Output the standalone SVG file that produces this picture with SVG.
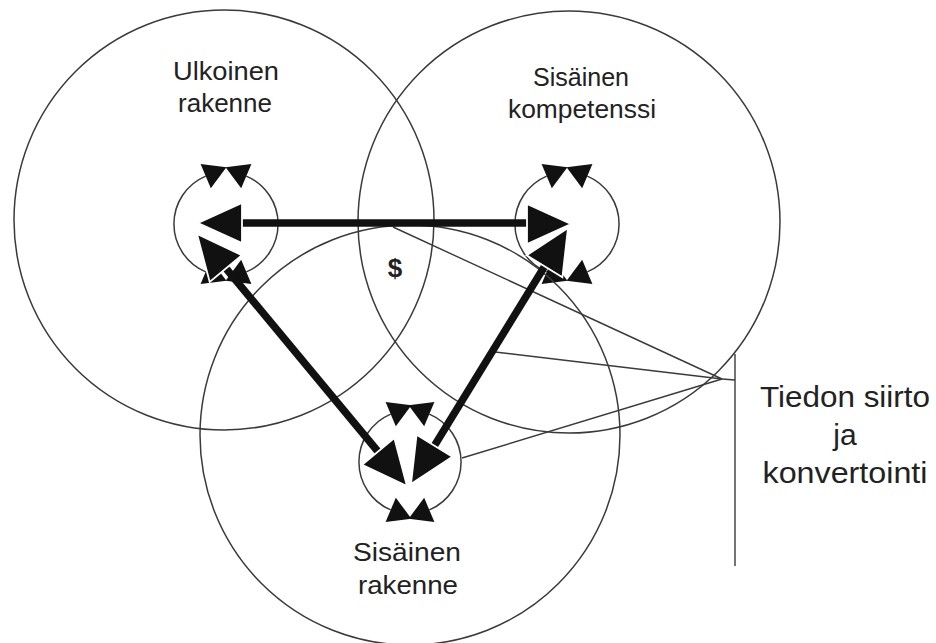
<svg xmlns="http://www.w3.org/2000/svg" width="936" height="643" viewBox="0 0 936 643">
<style>
.big{fill:none;stroke:#3a3a3a;stroke-width:1.5}
.loop{fill:none;stroke:#3a3a3a;stroke-width:1.5;marker-start:url(#sm);marker-end:url(#sm)}
.thin{fill:none;stroke:#3a3a3a;stroke-width:1.4}
.shaft{stroke:#111;stroke-width:7.5;stroke-linecap:butt}
.head{fill:#111;stroke:#fff;stroke-width:1.8;stroke-linejoin:miter}
text{font-family:"Liberation Sans",Arial,sans-serif;fill:#222;text-anchor:middle}
.lbl{font-size:26px}
.note{font-size:30px}
</style>
<defs>
<marker id="sm" markerUnits="userSpaceOnUse" markerWidth="30" markerHeight="30" viewBox="-2 -12 24 24" refX="0" refY="0" orient="auto-start-reverse">
<path d="M0,-10.5 L18,0 L0,10.5 z" fill="#111"/>
</marker>
</defs>
<rect width="936" height="643" fill="#fff"/>

<g id="ulkoinen-rakenne">
<circle class="big" cx="224" cy="220" r="210"/>
<text class="lbl" x="226" y="80" textLength="106" lengthAdjust="spacingAndGlyphs">Ulkoinen</text>
<text class="lbl" x="225" y="112" textLength="94" lengthAdjust="spacingAndGlyphs">rakenne</text>
<path class="loop" d="M205.7,271.9 A52 52 0 0 1 205.7,176.1"/>
<path class="loop" d="M246.3,271.9 A52 52 0 0 0 246.3,176.1"/>
</g>

<g id="sisainen-kompetenssi">
<circle class="big" cx="569" cy="222" r="211"/>
<text class="lbl" x="581" y="86" textLength="96" lengthAdjust="spacingAndGlyphs">Sisäinen</text>
<text class="lbl" x="582" y="118" textLength="148" lengthAdjust="spacingAndGlyphs">kompetenssi</text>
<path class="loop" d="M546.7,271.9 A52 52 0 0 1 546.7,176.1"/>
<path class="loop" d="M587.3,271.9 A52 52 0 0 0 587.3,176.1"/>
</g>

<g id="sisainen-rakenne">
<circle class="big" cx="410" cy="435" r="210"/>
<text class="lbl" x="407" y="561" textLength="108" lengthAdjust="spacingAndGlyphs">Sisäinen</text>
<text class="lbl" x="408" y="594" textLength="100" lengthAdjust="spacingAndGlyphs">rakenne</text>
<path class="loop" d="M390.7,509.9 A52 52 0 0 1 390.7,414.1"/>
<path class="loop" d="M429.3,509.9 A52 52 0 0 0 429.3,414.1"/>
</g>

<g id="tiedon-siirto">
<text class="note" x="845" y="407" textLength="170" lengthAdjust="spacingAndGlyphs">Tiedon siirto</text>
<text class="note" x="845" y="445">ja</text>
<text class="note" x="845" y="483" textLength="165" lengthAdjust="spacingAndGlyphs">konvertointi</text>
</g>

<g id="connectors">
<line class="thin" x1="393" y1="227" x2="722" y2="379"/>
<line class="thin" x1="495" y1="352" x2="722" y2="379"/>
<line class="thin" x1="462" y1="458" x2="722" y2="379"/>
<line class="thin" x1="722" y1="379" x2="735" y2="380"/>
<line class="thin" x1="735" y1="354" x2="735" y2="566"/>

<line class="shaft" x1="238" y1="223" x2="531" y2="223"/>
<polygon class="head" points="198,223 242,203 242,243"/>
<polygon class="head" points="571,224 527,204 527,244"/>

<line class="shaft" x1="224" y1="266" x2="380" y2="454"/>
<polygon class="head" points="197,234 241.9,255.2 209.7,282"/>
<polygon class="head" points="407,486 394.3,438 362.1,464.8"/>

<line class="shaft" x1="546" y1="264" x2="433" y2="448"/>
<polygon class="head" points="568,228 562.4,277.3 526.6,255.3"/>
<polygon class="head" points="411,484 452.4,456.7 416.6,434.7"/>

<text x="395" y="277" style="font-size:26px;font-weight:bold">$</text>
</g>
</svg>
